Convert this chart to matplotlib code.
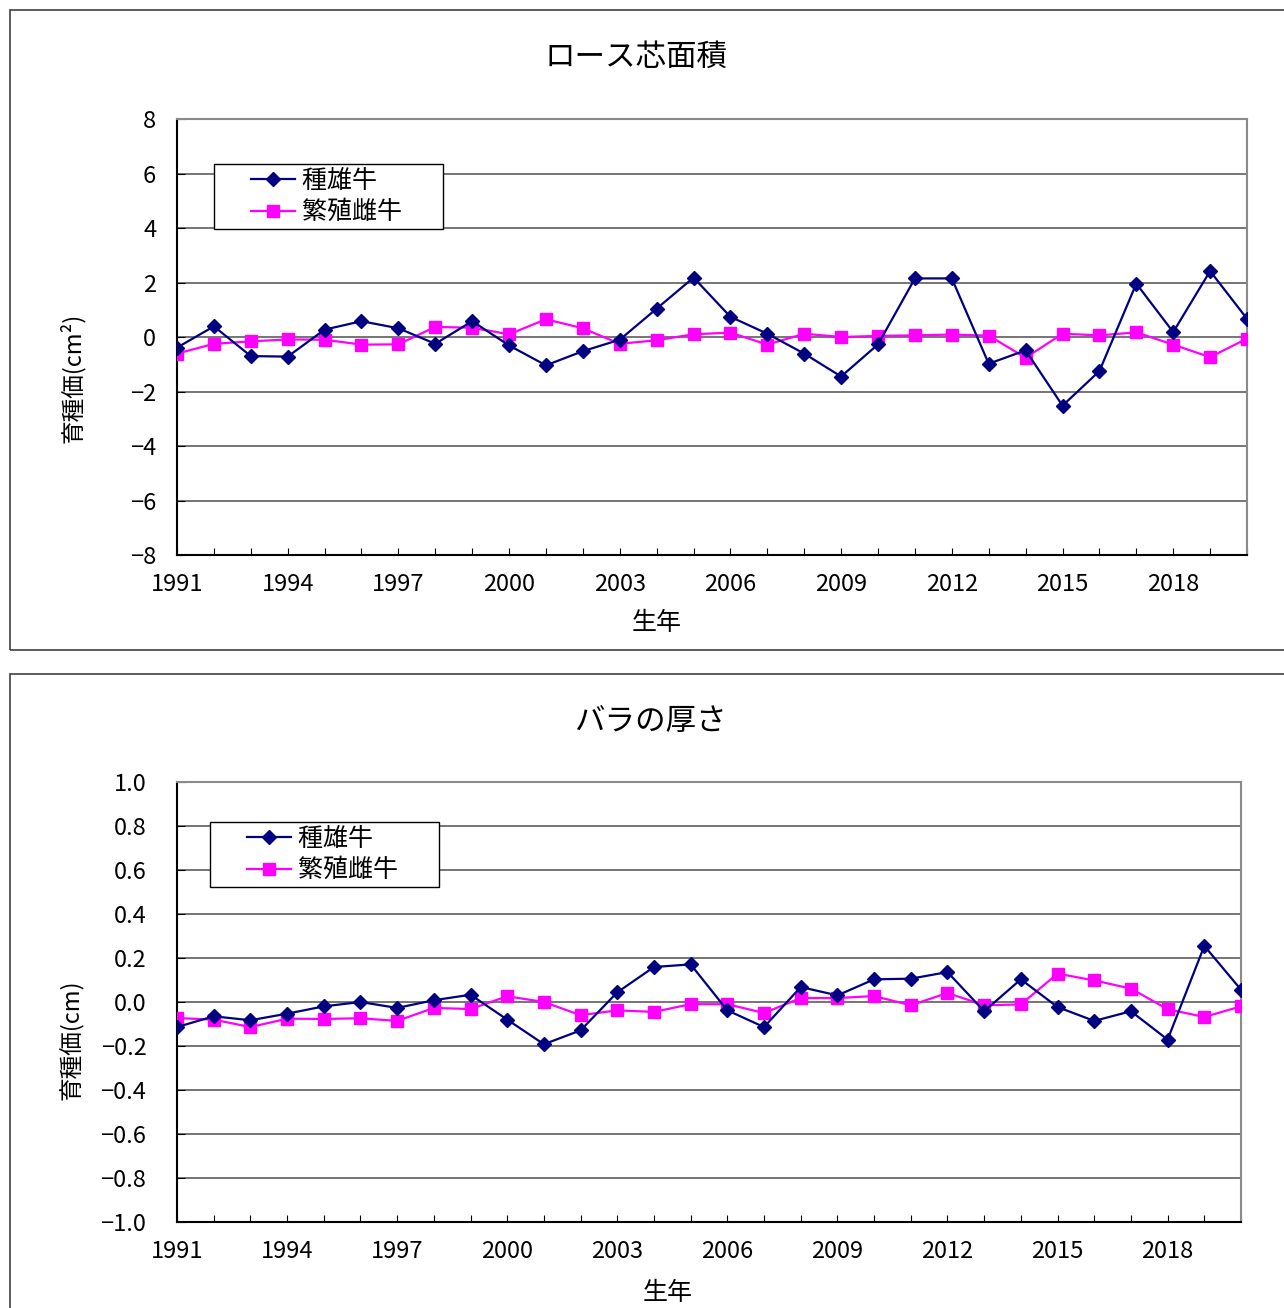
import matplotlib
matplotlib.use("Agg")
import matplotlib.pyplot as plt
from matplotlib.patches import Rectangle
from matplotlib.legend_handler import HandlerLine2D
from matplotlib.lines import Line2D

plt.rcParams['font.family'] = ['Noto Sans CJK JP', 'DejaVu Sans']

# data
years = list(range(1991, 2021))
year_labels = ['1991', '1994', '1997', '2000', '2003', '2006', '2009', '2012', '2015', '2018']

loin_bull = [-0.39, 0.39, -0.70, -0.72, 0.27, 0.58, 0.32, -0.25, 0.58, -0.31,
             -1.04, -0.52, -0.10, 1.04, 2.18, 0.74, 0.12, -0.61, -1.45, -0.27,
             2.15, 2.15, -0.98, -0.49, -2.52, -1.25, 1.96, 0.18, 2.42, 0.67]
loin_cow = [-0.61, -0.25, -0.16, -0.09, -0.10, -0.28, -0.27, 0.37, 0.34, 0.10,
            0.65, 0.32, -0.25, -0.12, 0.10, 0.16, -0.28, 0.12, 0.0, 0.04,
            0.06, 0.09, 0.05, -0.76, 0.12, 0.06, 0.17, -0.28, -0.74, -0.06]

bara_bull = [-0.114, -0.065, -0.083, -0.053, -0.020, 0.0, -0.027, 0.008, 0.033, -0.080,
             -0.192, -0.129, 0.044, 0.159, 0.171, -0.038, -0.114, 0.068, 0.030, 0.103,
             0.106, 0.136, -0.042, 0.103, -0.023, -0.086, -0.042, -0.171, 0.255, 0.056]
bara_cow = [-0.073, -0.080, -0.114, -0.076, -0.077, -0.074, -0.086, -0.027, -0.032, 0.026,
            0.0, -0.060, -0.038, -0.045, -0.010, -0.010, -0.050, 0.018, 0.018, 0.027,
            -0.015, 0.041, -0.015, -0.011, 0.129, 0.098, 0.061, -0.033, -0.068, -0.020]

series_names = ['種雄牛', '繁殖雌牛']
loin_ticks = [-8, -6, -4, -2, 0, 2, 4, 6, 8]
bara_ticks = [-1.0, -0.8, -0.6, -0.4, -0.2, 0.0, 0.2, 0.4, 0.6, 0.8, 1.0]

W, H = 1284, 1308
fig = plt.figure(figsize=(W / 100, H / 100), dpi=100)

NAVY = '#000080'
MAGENTA = '#FF00FF'


def px(x, y):
    return x / W, 1 - y / H


# outer chart frames
for (x0, y0, x1, y1) in [(10, 10, 1300, 650), (10, 674, 1300, 1330)]:
    fig.patches.append(Rectangle(px(x0, y1), (x1 - x0) / W, (y1 - y0) / H,
                                 transform=fig.transFigure, fill=False,
                                 edgecolor='#404040', linewidth=1.2))


def panel(rect, bull, cow, yticks, yfmt, ypad, title, title_xy, ylabel,
          ylabel_xy, xlabel_xy, leg_anchor):
    ax = fig.add_axes(rect)
    ax.plot(years, bull, color=NAVY, linewidth=1.6, marker='D', markersize=7.5,
            label=series_names[0], zorder=4)
    ax.plot(years, cow, color=MAGENTA, linewidth=1.6, marker='s', markersize=8.5,
            label=series_names[1], zorder=3)
    ax.set_xlim(1991, 2020)
    ax.set_ylim(yticks[0], yticks[-1])
    ax.set_yticks(yticks)
    ax.set_yticklabels([yfmt(v) for v in yticks])
    ax.set_xticks(years)
    ax.set_xticklabels([str(y) if str(y) in year_labels else '' for y in years])
    ax.tick_params(axis='both', direction='in', labelsize=17, colors='black')
    ax.tick_params(axis='x', length=5, pad=13)
    ax.tick_params(axis='y', length=6, pad=ypad)
    for v in yticks[1:-1]:
        ax.axhline(v, color='#505050', linewidth=1.1, zorder=1)
    for s in ['top', 'right']:
        ax.spines[s].set_color('#8a8a8a')
        ax.spines[s].set_linewidth(1.5)
    for s in ['left', 'bottom']:
        ax.spines[s].set_color('black')
        ax.spines[s].set_linewidth(1.5)
    fig.text(*px(*title_xy), title, fontsize=22, ha='center', va='center')
    fig.text(*px(*xlabel_xy), '生年', fontsize=18, ha='center', va='center')
    fig.text(*px(*ylabel_xy), ylabel, fontsize=17, ha='center', va='center',
             rotation=90)
    leg = ax.legend(loc='upper left', bbox_to_anchor=leg_anchor, fontsize=18,
                    frameon=True, fancybox=False, edgecolor='black',
                    framealpha=1, borderpad=0.15, labelspacing=0.22,
                    handlelength=3.1, handletextpad=0.25, borderaxespad=0,
                    handler_map={Line2D: HandlerLine2D(xpad=1.35)})
    leg.get_frame().set_linewidth(1.0)
    leg.set_zorder(5)
    for t in leg.get_texts():
        t.set_text(t.get_text() + '\u3000\u2002')
    return ax


panel([177 / W, 1 - 555 / H, 1070 / W, 436 / H], loin_bull, loin_cow,
      loin_ticks, lambda v: '%d' % v if v >= 0 else '\u2212%d' % -v, 15,
      'ロース芯面積', (636, 57), '育種価(cm²)', (72, 378), (657, 623),
      ((214 - 177) / 1070, 1 - (164 - 119) / 436))

panel([177 / W, 1 - 1222 / H, 1064 / W, 440 / H], bara_bull, bara_cow,
      bara_ticks, lambda v: '%.1f' % v if v >= 0 else '\u2212%.1f' % -v, 22,
      'バラの厚さ', (650, 721), '育種価(cm)', (72, 1040), (668, 1293),
      ((210 - 177) / 1064, 1 - (822 - 782) / 440))

fig.savefig('out.png', dpi=100)
